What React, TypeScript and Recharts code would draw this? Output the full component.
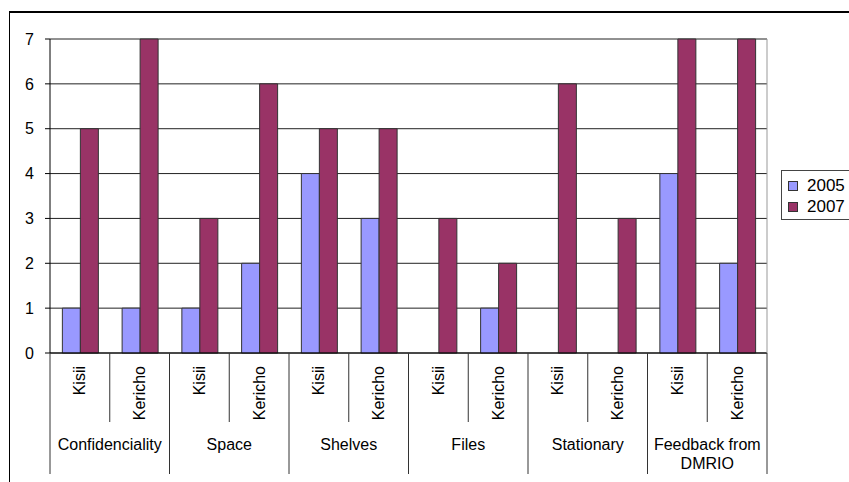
import { BarChart, Bar, XAxis, YAxis, CartesianGrid, Legend } from "recharts";

const groups = ["Confidenciality", "Space", "Shelves", "Files", "Stationary", "Feedback from DMRIO"];
const sites = ["Kisii", "Kericho"];
// one value per group/site pair, in order
const values2005 = [1, 1, 1, 2, 4, 3, 0, 1, 0, 0, 4, 2];
const values2007 = [5, 7, 3, 6, 5, 5, 3, 2, 6, 3, 7, 7];
const yTicks = [0, 1, 2, 3, 4, 5, 6, 7];

const data = values2005.map((v, i) => ({
  id: i,
  group: groups[Math.floor(i / sites.length)],
  site: sites[i % sites.length],
  y2005: v,
  y2007: values2007[i],
}));

const W = 849;
const H = 482;
const PLOT_LEFT = 50;
const PLOT_RIGHT = 767;
const PLOT_TOP = 39;
const PLOT_BOTTOM = 353;
const CAT_W = (PLOT_RIGHT - PLOT_LEFT) / data.length;
const SHORT_Y = 422;
const LONG_Y = 474;
const FONT = "'Liberation Sans', Arial, sans-serif";

const wrap = (s: string, max = 14) => {
  const out: string[] = [];
  let cur = "";
  s.split(" ").forEach((w) => {
    if (cur && (cur + " " + w).length > max) {
      out.push(cur);
      cur = w;
    } else {
      cur = cur ? cur + " " + w : w;
    }
  });
  if (cur) out.push(cur);
  return out;
};

const SiteTick = (props: any) => {
  const { x, y, payload } = props;
  const i = payload.index;
  const d = data[i];
  const right = x + CAT_W / 2;
  const lastInGroup = i % sites.length === sites.length - 1;
  const lines = wrap(d.group);
  return (
    <g>
      {i === 0 && (
        <line x1={x - CAT_W / 2} x2={x - CAT_W / 2} y1={y} y2={LONG_Y} stroke="#333" />
      )}
      <line x1={right} x2={right} y1={y} y2={lastInGroup ? LONG_Y : SHORT_Y} stroke="#333" />
      <text
        transform={`translate(${x + 5.5},${y + 13}) rotate(-90)`}
        textAnchor="end"
        fontSize={16}
        fill="#000"
      >
        {d.site}
      </text>
      {i % sites.length === 0 && (
        <text x={right} y={450} textAnchor="middle" fontSize={16} fill="#000">
          {lines.map((l, k) => (
            <tspan key={k} x={right} dy={k === 0 ? 0 : 19}>
              {l}
            </tspan>
          ))}
        </text>
      )}
    </g>
  );
};

const LegendBox = () => (
  <div
    style={{
      border: "1px solid #444",
      width: 80,
      height: 50,
      boxSizing: "border-box",
      padding: "4px 0 0 6px",
      fontFamily: FONT,
      fontSize: 17,
      lineHeight: "21px",
      background: "#fff",
    }}
  >
    {[
      { name: "2005", color: "#9999FF" },
      { name: "2007", color: "#993366" },
    ].map((it) => (
      <div key={it.name} style={{ display: "flex", alignItems: "center" }}>
        <span
          style={{
            display: "inline-block",
            width: 8,
            height: 8,
            background: it.color,
            border: "1px solid #333",
            marginRight: 9,
          }}
        />
        {it.name}
      </div>
    ))}
  </div>
);

export default function App() {
  return (
    <div style={{ position: "absolute", left: 0, top: 0, width: W, height: H, background: "#fff" }}>
      <div
        style={{
          position: "absolute",
          left: 9,
          top: 11,
          width: 900,
          height: 500,
          borderTop: "2px solid #000",
          borderLeft: "1.5px solid #000",
        }}
      />
      <div style={{ position: "absolute", left: 0, top: 0 }}>
        <BarChart
          width={W}
          height={H}
          data={data}
          margin={{ top: PLOT_TOP, left: 0, right: W - PLOT_RIGHT - 2, bottom: 0 }}
          barCategoryGap="20.7%"
          barGap={0}
          style={{ fontFamily: FONT }}
        >
          <CartesianGrid vertical={false} stroke="#222" />
          <XAxis
            dataKey="id"
            interval={0}
            height={H - PLOT_BOTTOM}
            tickSize={0}
            tickMargin={0}
            tickLine={false}
            axisLine={{ stroke: "#000" }}
            tick={<SiteTick />}
          />
          <YAxis
            domain={[0, 7]}
            ticks={yTicks}
            width={PLOT_LEFT}
            tickSize={5}
            tickMargin={11}
            axisLine={{ stroke: "#000" }}
            tickLine={{ stroke: "#000" }}
            tick={{ fill: "#000", fontSize: 16 }}
          />
          <YAxis
            yAxisId="frame"
            orientation="right"
            width={2}
            tick={false}
            tickLine={false}
            axisLine={{ stroke: "#999" }}
          />
          <Legend
            layout="vertical"
            align="center"
            verticalAlign="middle"
            wrapperStyle={{ position: "absolute", left: 781, top: 170, width: 80 }}
            content={<LegendBox />}
          />
          <Bar dataKey="y2005" name="2005" fill="#9999FF" stroke="#333" strokeWidth={1} isAnimationActive={false} />
          <Bar dataKey="y2007" name="2007" fill="#993366" stroke="#333" strokeWidth={1} isAnimationActive={false} />
        </BarChart>
      </div>
    </div>
  );
}
